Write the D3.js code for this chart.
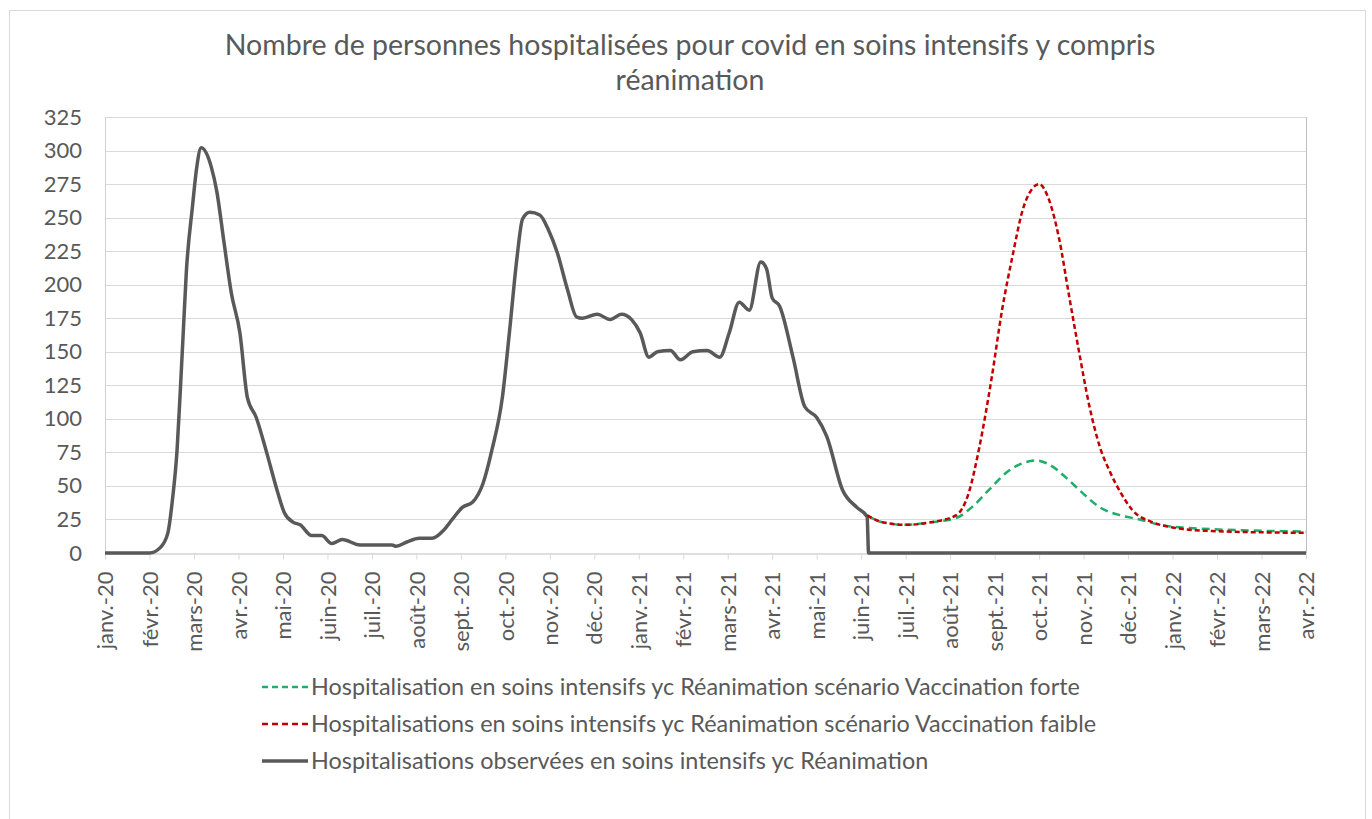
<!DOCTYPE html>
<html>
<head>
<meta charset="utf-8">
<script src="https://cdn.jsdelivr.net/npm/d3@7"></script>
<style>
  body { margin: 0; background: #fff; }
  svg text { font-family: Lato, "Open Sans", sans-serif; fill: #595959; }
</style>
</head>
<body>
<div class="svgContainer"></div>
<script>
// month categories shown on the x axis (equal spacing, like the Excel sheet)
const MONTH_LABELS = ['janv.-20', 'févr.-20', 'mars-20', 'avr.-20', 'mai-20', 'juin-20', 'juil.-20', 'août-20',
  'sept.-20', 'oct.-20', 'nov.-20', 'déc.-20', 'janv.-21', 'févr.-21', 'mars-21', 'avr.-21', 'mai-21', 'juin-21',
  'juil.-21', 'août-21', 'sept.-21', 'oct.-21', 'nov.-21', 'déc.-21', 'janv.-22', 'févr.-22', 'mars-22', 'avr.-22'];
const Y_TICKS = [0, 25, 50, 75, 100, 125, 150, 175, 200, 225, 250, 275, 300, 325];

const OBS_DATES = ['2020-01-01', '2020-02-01', '2020-02-08', '2020-02-13', '2020-02-16', '2020-02-19', '2020-02-21',
  '2020-02-23', '2020-02-25', '2020-02-29', '2020-03-03', '2020-03-06', '2020-03-13', '2020-03-17', '2020-03-22',
  '2020-03-27', '2020-04-02', '2020-04-07', '2020-04-13', '2020-04-20', '2020-04-27', '2020-05-02', '2020-05-08',
  '2020-05-13', '2020-05-21', '2020-05-28', '2020-06-04', '2020-06-11', '2020-06-23', '2020-07-15', '2020-07-18',
  '2020-07-25', '2020-08-03', '2020-08-12', '2020-08-20', '2020-08-26', '2020-09-02', '2020-09-09', '2020-09-16',
  '2020-09-22', '2020-09-29', '2020-10-04', '2020-10-09', '2020-10-13', '2020-10-18', '2020-10-25', '2020-10-31',
  '2020-11-06', '2020-11-13', '2020-11-19', '2020-11-23', '2020-12-03', '2020-12-12', '2020-12-20', '2020-12-27',
  '2021-01-02', '2021-01-08', '2021-01-14', '2021-01-23', '2021-01-30', '2021-02-07', '2021-02-16', '2021-02-24',
  '2021-03-02', '2021-03-09', '2021-03-16', '2021-03-24', '2021-03-28', '2021-04-01', '2021-04-06', '2021-04-15',
  '2021-04-23', '2021-05-01', '2021-05-08', '2021-05-19', '2021-05-29', '2021-06-05', '2021-06-06', '2022-04-01'];
const OBS_VALUES = [0, 0, 4, 15, 40, 77, 119,
  164, 209, 258, 288, 302, 288, 269, 231,
  194, 164, 116, 101, 75, 47, 30, 23,
  21, 13, 13, 7, 10, 6, 6, 5,
  8, 11, 11, 17, 25, 34, 38, 52,
  77, 116, 166, 219, 249, 254, 252, 241,
  224, 196, 176, 175, 178, 174, 178, 174,
  164, 146, 150, 151, 144, 150, 151, 146,
  164, 187, 181, 217, 212, 190, 184, 146,
  109, 101, 87, 47, 34, 27, 0, 0];

// scenario "Vaccination faible" (red)
const LOW_DATES = ['2021-06-05', '2021-06-15', '2021-07-01', '2021-07-19', '2021-08-05', '2021-08-14', '2021-08-21',
  '2021-08-30', '2021-09-06', '2021-09-13', '2021-09-20', '2021-09-26', '2021-10-01', '2021-10-08', '2021-10-15',
  '2021-10-22', '2021-10-29', '2021-11-05', '2021-11-12', '2021-11-19', '2021-11-26', '2021-12-04', '2021-12-18',
  '2022-01-01', '2022-01-25', '2022-04-01'];
const LOW_VALUES = [28, 23, 21, 23, 28, 45, 77,
  131, 181, 221, 256, 271, 275, 263, 234,
  191, 149, 109, 79, 60, 45, 32, 23,
  19, 16.5, 15];

// scenario "Vaccination forte" (green)
const HIGH_DATES = ['2021-06-05', '2021-06-15', '2021-07-01', '2021-07-19', '2021-08-05', '2021-08-16', '2021-08-28',
  '2021-09-09', '2021-09-20', '2021-09-29', '2021-10-08', '2021-10-20', '2021-10-31', '2021-11-12', '2021-11-26',
  '2021-12-09', '2021-12-23', '2022-01-13', '2022-04-01'];
const HIGH_VALUES = [28, 23, 21, 23, 26, 34, 47,
  60, 67, 69, 66, 56, 45, 34, 28,
  25, 21, 18.6, 16];

const LEGEND_LABELS = [
  'Hospitalisation en soins intensifs yc Réanimation scénario Vaccination forte',
  'Hospitalisations en soins intensifs yc Réanimation scénario Vaccination faible',
  'Hospitalisations observées en soins intensifs yc Réanimation'
];

const WIDTH = 1372, HEIGHT = 819;
const PLOT = { left: 105, right: 1306, top: 117, bottom: 553 };

// date -> fractional month index (Jan 2020 = 0)
const parse = d3.timeParse('%Y-%m-%d');
function monthPos(s) {
  const d = parse(s);
  const start = d3.timeMonth.floor(d);
  const days = d3.timeDay.count(start, d3.timeMonth.offset(start, 1));
  return (d.getFullYear() - 2020) * 12 + d.getMonth() + (d.getDate() - 1) / days;
}
const zip = (dates, vals) => dates.map((d, i) => ({ x: monthPos(d), y: vals[i] }));

const svg = d3.select('.svgContainer')
  .append('svg')
  .attr('width', WIDTH)
  .attr('height', HEIGHT);

// outer chart frame
svg.append('rect')
  .attr('x', 9.5).attr('y', 10.5)
  .attr('width', 1356).attr('height', 820)
  .attr('fill', '#fff')
  .attr('stroke', '#d9d9d9');

const x = d3.scaleLinear().domain([0, MONTH_LABELS.length - 1]).range([PLOT.left, PLOT.right]);
const y = d3.scaleLinear().domain([0, 325]).range([PLOT.bottom, PLOT.top]);

// title
svg.append('text')
  .attr('x', 690).attr('y', 0)
  .attr('text-anchor', 'middle')
  .style('font-size', '28.5px')
  .selectAll('tspan')
  .data(['Nombre de personnes hospitalisées pour covid en soins intensifs y compris', 'réanimation'])
  .enter()
  .append('tspan')
  .attr('x', 690)
  .attr('y', (d, i) => 55 + i * 35)
  .text(d => d);

// horizontal gridlines
svg.append('g')
  .selectAll('line')
  .data(Y_TICKS.filter(d => d > 0))
  .enter()
  .append('line')
  .attr('x1', PLOT.left).attr('x2', PLOT.right)
  .attr('y1', d => Math.round(y(d)) + 0.5).attr('y2', d => Math.round(y(d)) + 0.5)
  .attr('stroke', '#d9d9d9');

// plot area border (left / right)
svg.append('line')
  .attr('x1', PLOT.left + 0.5).attr('x2', PLOT.left + 0.5)
  .attr('y1', PLOT.top).attr('y2', PLOT.bottom)
  .attr('stroke', '#d0d0d0');
svg.append('line')
  .attr('x1', PLOT.right + 0.5).attr('x2', PLOT.right + 0.5)
  .attr('y1', PLOT.top).attr('y2', PLOT.bottom)
  .attr('stroke', '#bfbfbf');

// y axis labels
const yAxis = d3.axisLeft(y).tickValues(Y_TICKS).tickSize(0).tickPadding(23);
svg.append('g')
  .attr('transform', `translate(${PLOT.left}, 0)`)
  .call(yAxis)
  .call(g => g.select('.domain').remove())
  .selectAll('text')
  .style('font-size', '22px')
  .attr('fill', '#595959')
  .style('font-family', 'Lato, sans-serif');

// x axis with month ticks
const xAxis = d3.axisBottom(x)
  .tickValues(d3.range(MONTH_LABELS.length))
  .tickFormat(i => MONTH_LABELS[i])
  .tickSize(6)
  .tickSizeOuter(0);
const xg = svg.append('g')
  .attr('transform', `translate(0, ${Math.round(PLOT.bottom) + 0.5})`)
  .call(xAxis);
xg.select('.domain').attr('stroke', '#bfbfbf');
xg.selectAll('.tick line').attr('stroke', '#d9d9d9');
xg.selectAll('text')
  .style('font-size', '22px')
  .style('font-family', 'Lato, sans-serif')
  .attr('fill', '#595959')
  .attr('text-anchor', 'end')
  .attr('transform', 'rotate(-90)')
  .attr('x', -18)
  .attr('y', 0)
  .attr('dy', '0.35em');

const line = d3.line()
  .x(d => x(d.x))
  .y(d => y(d.y))
  .curve(d3.curveMonotoneX);

// observed series
svg.append('path')
  .datum(zip(OBS_DATES, OBS_VALUES))
  .attr('d', line)
  .attr('fill', 'none')
  .attr('stroke', '#595959')
  .attr('stroke-width', 3.5)
  .attr('stroke-linejoin', 'round');

// scenario vaccination forte
svg.append('path')
  .datum(zip(HIGH_DATES, HIGH_VALUES))
  .attr('d', line)
  .attr('fill', 'none')
  .attr('stroke', '#1fae6a')
  .attr('stroke-width', 2.5)
  .attr('stroke-dasharray', '8,5');

// scenario vaccination faible
svg.append('path')
  .datum(zip(LOW_DATES, LOW_VALUES))
  .attr('d', line)
  .attr('fill', 'none')
  .attr('stroke', '#c00000')
  .attr('stroke-width', 2.5)
  .attr('stroke-dasharray', '5,3');

// legend
const LEGEND_STYLES = [
  { color: '#1fae6a', dash: '6,4', width: 2.5 },
  { color: '#c00000', dash: '6,4', width: 2.5 },
  { color: '#595959', dash: null, width: 3.5 }
];
const legend = svg.append('g').attr('id', 'legend');
const rows = legend.selectAll('g')
  .data(LEGEND_LABELS)
  .enter()
  .append('g')
  .attr('transform', (d, i) => `translate(262, ${687 + i * 37})`);
rows.append('line')
  .attr('x1', 0).attr('x2', 46)
  .attr('y1', 0).attr('y2', 0)
  .attr('stroke', (d, i) => LEGEND_STYLES[i].color)
  .attr('stroke-width', (d, i) => LEGEND_STYLES[i].width)
  .attr('stroke-dasharray', (d, i) => LEGEND_STYLES[i].dash);
rows.append('text')
  .attr('x', 49)
  .attr('y', 0)
  .attr('dy', '0.35em')
  .style('font-size', '23.4px')
  .text(d => d);
</script>
</body>
</html>
